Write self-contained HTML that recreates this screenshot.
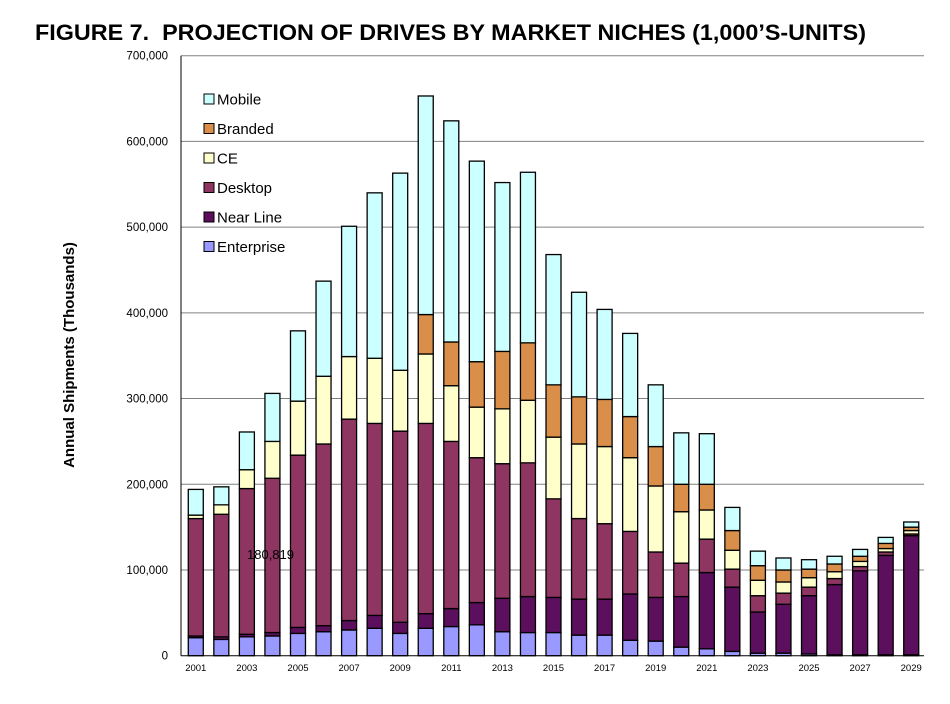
<!DOCTYPE html>
<html><head><meta charset="utf-8"><style>
body{margin:0;background:#fff;font-family:"Liberation Sans",Arial,sans-serif}
</style></head><body>
<svg id="chart" width="950" height="699" xmlns="http://www.w3.org/2000/svg" font-family="Liberation Sans, Arial, sans-serif">
<text x="35" y="40" font-size="22" font-weight="bold" fill="#000" textLength="831" lengthAdjust="spacingAndGlyphs" xml:space="preserve">FIGURE 7.  PROJECTION OF DRIVES BY MARKET NICHES (1,000’S-UNITS)</text>
<text transform="translate(74,355) rotate(-90)" text-anchor="middle" font-size="15" font-weight="bold">Annual Shipments (Thousands)</text>
<g id="grid"></g><g id="bars"></g><g id="axes"></g>
<text x="247" y="559" font-size="13" fill="#000">180,819</text>
<g id="legend"></g>
</svg>
<script>
const years=[2001,2002,2003,2004,2005,2006,2007,2008,2009,2010,2011,2012,2013,2014,2015,2016,2017,2018,2019,2020,2021,2022,2023,2024,2025,2026,2027,2028,2029];
const cumEnterprise=[21,19,22,23,26,28,30,32,26,32,34,36,28,27,27,24,24,18,17,10,8,5,3,3,2,1,1,1,1];
const cumNearLine=[23,22,25,27,33,35,41,47,39,49,55,62,67,69,68,66,66,72,68,69,97,80,51,60,70,83,99,117,140];
const cumDesktop=[160,165,195,207,234,247,276,271,262,271,250,231,224,225,183,160,154,145,121,108,136,101,70,73,80,90,104,121,142];
const cumCE=[164,176,217,250,297,326,349,347,333,352,315,290,288,298,255,247,244,231,198,168,170,123,88,86,91,98,110,125,146];
const cumBranded=[164,176,217,250,297,326,349,347,333,398,366,343,355,365,316,302,299,279,244,200,200,146,105,100,101,107,116,131,150];
const cumMobile=[194,197,261,306,379,437,501,540,563,653,624,577,552,564,468,424,404,376,316,260,259,173,122,114,112,116,124,138,156];
const yTicks=[0,100000,200000,300000,400000,500000,600000,700000];
const seriesNames=["Enterprise","Near Line","Desktop","CE","Branded","Mobile"];
const colors=["#9999ff","#5c0f5c","#8e3562","#ffffcc","#d98e4a","#ccffff"];
const cums=[cumEnterprise,cumNearLine,cumDesktop,cumCE,cumBranded,cumMobile];
const NS="http://www.w3.org/2000/svg";
const L=183,R=924,T=55.7,B=655.7,maxV=700;
const y=v=>B-(v/maxV)*(B-T);
const band=(R-L)/years.length;
const x=i=>L+band*i+band/2;
function mk(tag,attrs,parent){const e=document.createElementNS(NS,tag);for(const k in attrs)e.setAttribute(k,attrs[k]);parent.appendChild(e);return e;}
const grid=document.getElementById('grid'),bars=document.getElementById('bars'),axes=document.getElementById('axes'),legend=document.getElementById('legend');
yTicks.forEach(t=>{
 const yy=y(t/1000);
 if(t>0){const g=mk('line',{x1:L-2,x2:R,y1:yy,y2:yy,stroke:'#808080','stroke-width':1},grid);
 
 }
 const tl=mk('text',{x:168,y:yy+4,'text-anchor':'end','font-size':11.5},axes);
 tl.textContent=t.toLocaleString('en-US');
 
 
});
years.forEach((yr,i)=>{
 let prev=0;
 cums.forEach((c,s)=>{
  const v=Math.max(c[i],prev);
  if(v>prev){
   const r=mk('rect',{x:x(i)-7.5,y:y(v),width:15,height:y(prev)-y(v),fill:colors[s],stroke:'#000','stroke-width':1.3},bars);
   
   
  }
  prev=v;
 });
 if(i%2===0){
  const tx=mk('text',{x:x(i),y:671,'text-anchor':'middle','font-size':9.5},axes);
  tx.textContent=yr;
  
  
 }
});
const ax=mk('line',{x1:L-2,x2:L-2,y1:T,y2:B,stroke:'#000','stroke-width':1},axes);


const bx=mk('line',{x1:L-2,x2:R,y1:B,y2:B,stroke:'#000','stroke-width':1},axes);


for(let k=5;k>=0;k--){
 const row=5-k, yy=100+row*29.5;
 const sq=mk('rect',{x:204,y:yy-6,width:10,height:10,fill:colors[k],stroke:'#000','stroke-width':1},legend);
 
 
 const lt=mk('text',{x:217,y:yy+4.5,'font-size':15},legend);
 lt.textContent=seriesNames[k];
 
 
}
</script>
</body></html>
